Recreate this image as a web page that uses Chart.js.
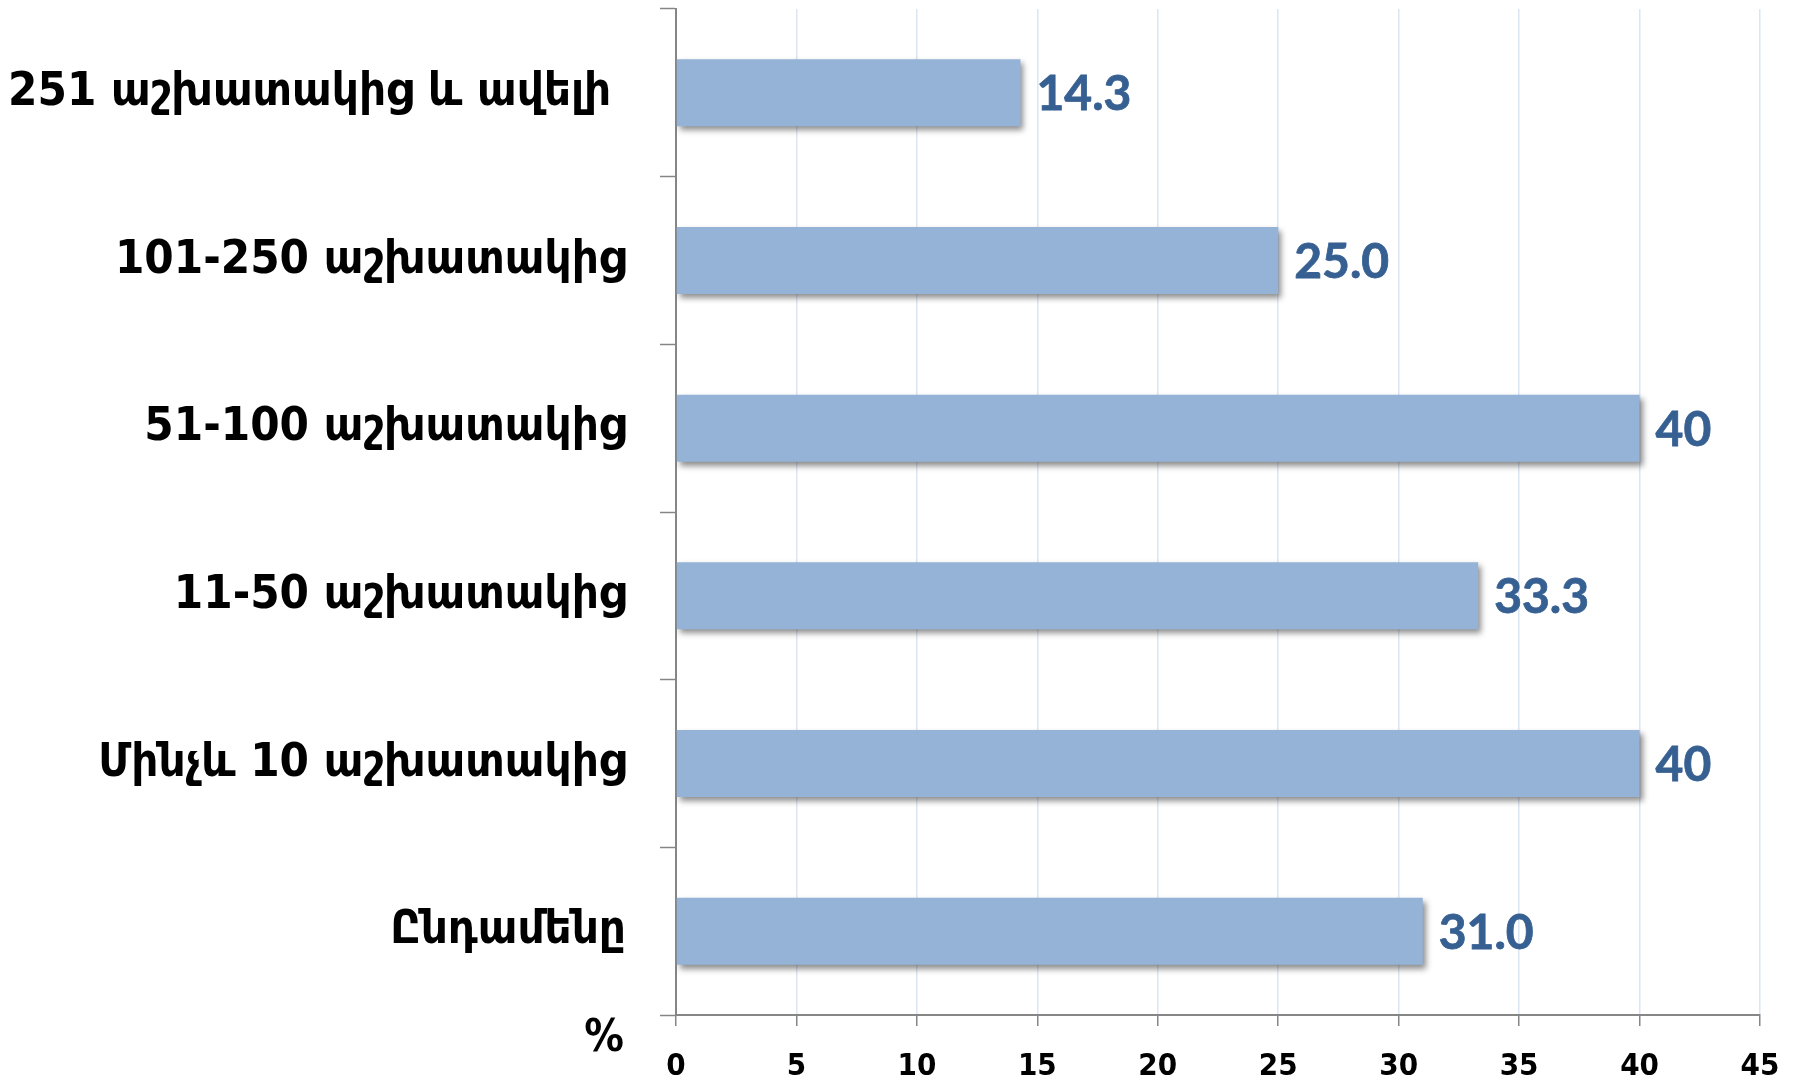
<!DOCTYPE html>
<html>
<head>
<meta charset="utf-8">
<script src="https://cdn.jsdelivr.net/npm/chart.js@4.4.1/dist/chart.umd.min.js"></script>
<style>
  html, body { margin: 0; padding: 0; background: #fff; }
  #wrap { width: 1797px; height: 1079px; position: relative; }
</style>
</head>
<body>
<div id="wrap"><canvas id="chart" width="1797" height="1079"></canvas></div>
<script>
// Data
const categories = [
    '251 աշխատակից և ավելի ',
    '101-250 աշխատակից',
    '51-100 աշխատակից',
    '11-50 աշխատակից',
    'Մինչև 10 աշխատակից',
    'Ընդամենը'
];
const values = [14.3, 25.0, 40, 33.3, 40, 31.0];
const valueLabels = ['14.3', '25.0', '40', '33.3', '40', '31.0'];
const xTicks = [0, 5, 10, 15, 20, 25, 30, 35, 40, 45];

const THEME = {
    bar: '#95b3d7',
    value: '#376092',
    axis: '#868686',
    grid: '#dce6f2',
    text: '#000000'
};
const labelFont = "'DejaVu Sans Condensed', 'DejaVu Sans', sans-serif";

// soft shadow under the bars
const barShadow = {
    id: 'barShadow',
    beforeDatasetsDraw(chart) {
        const ctx = chart.ctx;
        ctx.save();
        ctx.shadowColor = 'rgba(0, 0, 0, 0.45)';
        ctx.shadowBlur = 6;
        ctx.shadowOffsetX = 3;
        ctx.shadowOffsetY = 4;
    },
    afterDatasetsDraw(chart) {
        chart.ctx.restore();
    }
};

// value labels to the right of each bar
const valueText = {
    id: 'valueText',
    afterDatasetsDraw(chart) {
        const ctx = chart.ctx;
        const meta = chart.getDatasetMeta(0);
        ctx.save();
        ctx.fillStyle = THEME.value;
        ctx.strokeStyle = THEME.value;
        ctx.lineWidth = 0.8;
        ctx.font = "bold 48px Lato, 'Open Sans', sans-serif";
        ctx.textAlign = 'left';
        ctx.textBaseline = 'middle';
        meta.data.forEach((bar, i) => {
            ctx.fillText(valueLabels[i], bar.x + 16, bar.y + 2);
            ctx.strokeText(valueLabels[i], bar.x + 16, bar.y + 2);
        });
        ctx.restore();
    }
};

// "%" unit sign below the category axis
const unitSign = {
    id: 'unitSign',
    afterDraw(chart) {
        const ctx = chart.ctx;
        ctx.save();
        ctx.fillStyle = THEME.text;
        ctx.font = 'bold 44px ' + labelFont;
        ctx.textAlign = 'center';
        ctx.textBaseline = 'middle';
        ctx.fillText('%', 604, 1040);
        ctx.restore();
    }
};

const ctx = document.getElementById('chart').getContext('2d');
new Chart(ctx, {
    type: 'bar',
    data: {
        labels: categories,
        datasets: [{
            data: values,
            backgroundColor: THEME.bar,
            borderWidth: 0,
            barPercentage: 0.4,
            categoryPercentage: 1
        }]
    },
    options: {
        indexAxis: 'y',
        responsive: false,
        animation: false,
        layout: { padding: { top: 9, right: 37, left: 0, bottom: 0 } },
        scales: {
            x: {
                min: 0,
                max: 45,
                afterBuildTicks(axis) {
                    axis.ticks = xTicks.map(v => ({ value: v }));
                },
                afterFit(axis) {
                    axis.height = 64;
                    axis.paddingLeft = 0;
                    axis.paddingRight = 0;
                },
                border: { color: THEME.axis, width: 2 },
                grid: {
                    color: THEME.grid,
                    lineWidth: 1.5,
                    tickColor: THEME.axis,
                    tickLength: 11,
                    tickWidth: 1.5
                },
                ticks: {
                    color: THEME.text,
                    padding: 22,
                    font: { family: labelFont, size: 31, weight: 'bold' }
                }
            },
            y: {
                afterFit(axis) {
                    axis.width = 676;
                    axis.paddingTop = 0;
                    axis.paddingBottom = 0;
                },
                border: { color: THEME.axis, width: 2 },
                grid: {
                    offset: true,
                    drawOnChartArea: false,
                    tickColor: THEME.axis,
                    tickLength: 16,
                    tickWidth: 1.5
                },
                ticks: {
                    color: THEME.text,
                    padding: 34,
                    font: { family: labelFont, size: 47, weight: 'bold' }
                }
            }
        },
        plugins: {
            legend: { display: false },
            tooltip: { enabled: false }
        }
    },
    plugins: [barShadow, valueText, unitSign]
});
</script>
</body>
</html>
